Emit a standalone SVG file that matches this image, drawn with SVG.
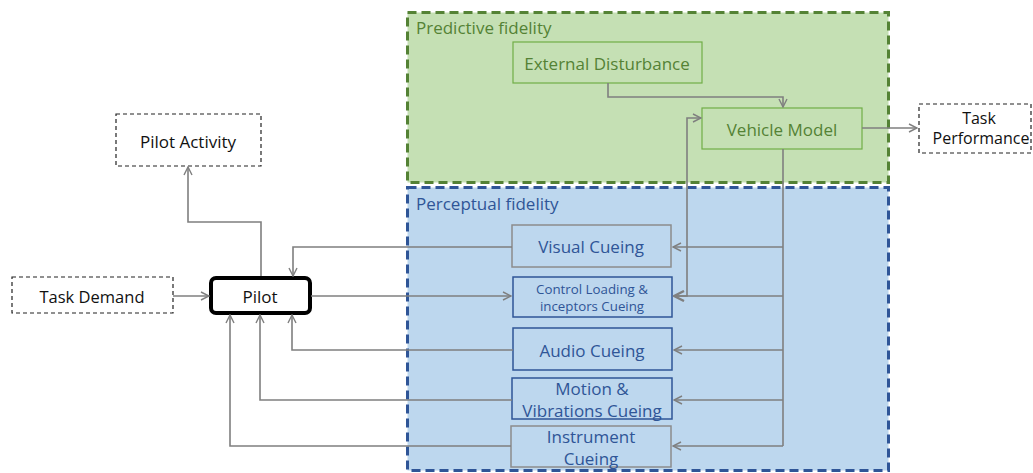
<svg xmlns="http://www.w3.org/2000/svg" width="1033" height="473" viewBox="0 0 1033 473">
<style>
text{font-family:"Open Sans","Liberation Sans",sans-serif;text-anchor:middle;dominant-baseline:central}
.g{fill:#548235}
.b{fill:#2f5597}
.k{fill:#111}
.dash{fill:#fff;stroke:#222;stroke-width:1.2;stroke-dasharray:4 3}
.gb{fill:#c5e0b4;stroke:#70ad47;stroke-width:1.2}
.cb{fill:#bdd7ee;stroke:#2f5597;stroke-width:1.5}
.cbg{fill:#bdd7ee;stroke:#8c8c8c;stroke-width:1.5}
.c{fill:none;stroke:#7f7f7f;stroke-width:1.6}
</style>
<defs>
<marker id="a" markerWidth="10" markerHeight="10" refX="9" refY="5" orient="auto" markerUnits="userSpaceOnUse">
<path d="M1,1 L9,5 L1,9" fill="none" stroke="#7f7f7f" stroke-width="1.4"/>
</marker>
<marker id="a2" markerWidth="12" markerHeight="12" refX="1" refY="6" orient="auto" markerUnits="userSpaceOnUse">
<path d="M11,1 L1,6 L11,11" fill="none" stroke="#7f7f7f" stroke-width="2.4"/>
</marker>
</defs>
<rect width="1033" height="473" fill="#fff"/>
<g id="predictive">
<rect x="407.5" y="12.5" width="481" height="170" fill="#c5e0b4" stroke="#548235" stroke-width="3" stroke-dasharray="9 5"/>
<text x="416" y="27" class="g" style="text-anchor:start;font-size:17px">Predictive fidelity</text>
</g>
<g id="perceptual">
<rect x="407.5" y="187.5" width="481" height="283" fill="#bdd7ee" stroke="#2f5597" stroke-width="3" stroke-dasharray="9 5"/>
<text x="416" y="203" class="b" style="text-anchor:start;font-size:17px">Perceptual fidelity</text>
</g>
<g id="external-disturbance">
<rect class="gb" x="513" y="42" width="189" height="41"/>
<text x="607" y="63" class="g" style="font-size:17px">External Disturbance</text>
</g>
<g id="vehicle-model">
<rect class="gb" x="702" y="108" width="160" height="41"/>
<text x="782" y="129" class="g" style="font-size:17px">Vehicle Model</text>
</g>
<g id="task-performance">
<rect class="dash" x="919" y="104" width="112" height="49"/>
<text x="979" y="118" class="k" style="font-size:16px">Task</text>
<text x="981" y="138" class="k" style="font-size:16px">Performance</text>
</g>
<g id="pilot-activity">
<rect class="dash" x="116" y="114" width="145" height="52"/>
<text x="188" y="141" class="k" style="font-size:17px">Pilot Activity</text>
</g>
<g id="task-demand">
<rect class="dash" x="12" y="277" width="161" height="36"/>
<text x="92" y="296" class="k" style="font-size:16.5px">Task Demand</text>
</g>
<g id="pilot">
<rect x="211" y="278" width="99" height="35" rx="5" fill="#fff" stroke="#000" stroke-width="4"/>
<text x="260" y="296" class="k" style="font-size:17px">Pilot</text>
</g>
<g id="visual-cueing">
<rect class="cbg" x="512" y="225" width="159" height="42"/>
<text x="591" y="246" class="b" style="font-size:17px">Visual Cueing</text>
</g>
<g id="control-loading">
<rect class="cb" x="513" y="277" width="159" height="40"/>
<text x="592" y="289" class="b" style="font-size:13.3px">Control Loading &amp;</text>
<text x="592" y="306" class="b" style="font-size:13.3px">inceptors Cueing</text>
</g>
<g id="audio-cueing">
<rect class="cb" x="513" y="328" width="159" height="42"/>
<text x="592" y="350" class="b" style="font-size:17px">Audio Cueing</text>
</g>
<g id="motion-cueing">
<rect class="cb" x="512" y="378" width="160" height="41"/>
<text x="592" y="388" class="b" style="font-size:17px">Motion &amp;</text>
<text x="592" y="410" class="b" style="font-size:17px">Vibrations Cueing</text>
</g>
<g id="instrument-cueing">
<rect class="cbg" x="511" y="426" width="160" height="41"/>
<text x="591" y="436" class="b" style="font-size:17px">Instrument</text>
<text x="591" y="458" class="b" style="font-size:17px">Cueing</text>
</g>
<g id="connectors">
<path class="c" d="M608,83 V97 H783 V107" marker-end="url(#a)"/>
<path class="c" d="M862,128 H917" marker-end="url(#a)"/>
<path class="c" d="M783,149 V446"/>
<path class="c" d="M783,247 H673" marker-end="url(#a)"/>
<path class="c" d="M783,296 H674"/>
<path class="c" d="M783,350 H674" marker-end="url(#a)"/>
<path class="c" d="M783,400 H674" marker-end="url(#a)"/>
<path class="c" d="M783,446 H673" marker-end="url(#a)"/>
<path class="c" d="M674,296 H687 V118 H701" marker-start="url(#a2)" marker-end="url(#a)"/>
<path class="c" d="M311,296 H511" marker-end="url(#a)"/>
<path class="c" d="M173,296 H209" marker-end="url(#a)"/>
<path class="c" d="M261,276 V222 H188 V167" marker-end="url(#a)"/>
<path class="c" d="M512,247 H293 V276" marker-end="url(#a)"/>
<path class="c" d="M513,350 H292 V315" marker-end="url(#a)"/>
<path class="c" d="M512,400 H260 V315" marker-end="url(#a)"/>
<path class="c" d="M511,446 H230 V315" marker-end="url(#a)"/>
</g>
</svg>
